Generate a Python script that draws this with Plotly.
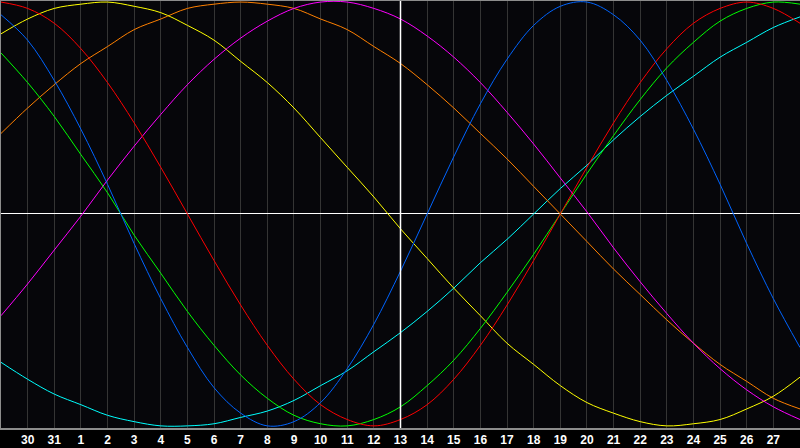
import plotly.graph_objects as go

# day index 0..30 across the window, tick labels for days 1..29
days = list(range(31))
tickPos = list(range(1, 30))
tickLabels = ['30', '31'] + [str(d) for d in range(1, 28)]

physical = [0.94, 0.82, 0.63, 0.40, 0.14, -0.14, -0.40, -0.63, -0.82, -0.94, -1.00, -0.98, -0.89, -0.73, -0.52, -0.27,
            0.00, 0.27, 0.52, 0.73, 0.89, 0.98, 1.00, 0.94, 0.82, 0.63, 0.40, 0.14, -0.14, -0.40, -0.63]
emotional = [1.00, 0.97, 0.90, 0.78, 0.62, 0.43, 0.22, 0.00, -0.22, -0.43, -0.62, -0.78, -0.90, -0.97, -1.00, -0.97,
             -0.90, -0.78, -0.62, -0.43, -0.22, 0.00, 0.22, 0.43, 0.62, 0.78, 0.90, 0.97, 1.00, 0.97, 0.90]
intellectual = [0.76, 0.62, 0.46, 0.28, 0.10, -0.10, -0.28, -0.46, -0.62, -0.76, -0.87, -0.95, -0.99, -1.00, -0.97, -0.91,
                -0.81, -0.69, -0.54, -0.37, -0.19, 0.00, 0.19, 0.37, 0.54, 0.69, 0.81, 0.91, 0.97, 1.00, 0.99]
intuitive = [-0.48, -0.33, -0.17, -0.01, 0.16, 0.32, 0.47, 0.61, 0.73, 0.83, 0.91, 0.97, 1.00, 1.00, 0.97, 0.92,
             0.84, 0.74, 0.62, 0.48, 0.33, 0.17, 0.01, -0.16, -0.32, -0.47, -0.61, -0.73, -0.83, -0.91, -0.97]
aesthetic = [0.85, 0.92, 0.97, 0.99, 1.00, 0.98, 0.95, 0.89, 0.82, 0.72, 0.62, 0.50, 0.36, 0.22, 0.08, -0.07,
             -0.21, -0.35, -0.48, -0.61, -0.71, -0.81, -0.89, -0.94, -0.98, -1.00, -0.99, -0.97, -0.92, -0.86, -0.77]
awareness = [0.38, 0.50, 0.61, 0.71, 0.79, 0.87, 0.92, 0.97, 0.99, 1.00, 0.99, 0.97, 0.92, 0.87, 0.79, 0.71,
             0.61, 0.50, 0.38, 0.26, 0.13, 0.00, -0.13, -0.26, -0.38, -0.50, -0.61, -0.71, -0.79, -0.87, -0.92]
spiritual = [-0.70, -0.78, -0.85, -0.90, -0.95, -0.98, -1.00, -1.00, -0.99, -0.96, -0.93, -0.88, -0.81, -0.74, -0.65, -0.56,
             -0.46, -0.35, -0.23, -0.12, 0.00, 0.12, 0.23, 0.35, 0.46, 0.56, 0.65, 0.74, 0.81, 0.88, 0.93]

series = [
    ('Spiritual', spiritual, 'rgb(0,255,255)'),
    ('Awareness', awareness, 'rgb(255,128,0)'),
    ('Aesthetic', aesthetic, 'rgb(255,255,0)'),
    ('Intuitive', intuitive, 'rgb(255,0,255)'),
    ('Intellectual', intellectual, 'rgb(0,255,0)'),
    ('Emotional', emotional, 'rgb(255,0,0)'),
    ('Physical', physical, 'rgb(0,100,255)'),
]

fig = go.Figure()
for name, vals, col in series:
    fig.add_trace(go.Scatter(x=days, y=vals, name=name, mode='lines',
                             line=dict(color=col, width=1, shape='spline')))

# today marker
fig.add_vline(x=15, line=dict(color='white', width=1.5))

fig.update_xaxes(range=[0, 30], tickvals=tickPos, ticktext=tickLabels,
                 showgrid=True, gridcolor='rgb(52,52,52)', gridwidth=1,
                 showline=True, linecolor='rgb(140,140,140)', linewidth=2, mirror=True,
                 ticks='', zeroline=False,
                 tickfont=dict(family='Liberation Sans', size=12, color='white', weight='bold'))
fig.update_yaxes(range=[-1.01, 1.005], showgrid=False, showticklabels=False,
                 zeroline=True, zerolinecolor='white', zerolinewidth=1,
                 showline=True, linecolor='rgb(140,140,140)', linewidth=2)

fig.update_layout(
    width=800, height=448,
    showlegend=False,
    paper_bgcolor='black',
    plot_bgcolor='rgb(6,6,10)',
    margin=dict(l=1, r=0, t=1, b=20),
)

fig.write_html("out.html", config={'displayModeBar': False},
               post_script="document.body.style.margin='0';document.body.style.background='black';")
